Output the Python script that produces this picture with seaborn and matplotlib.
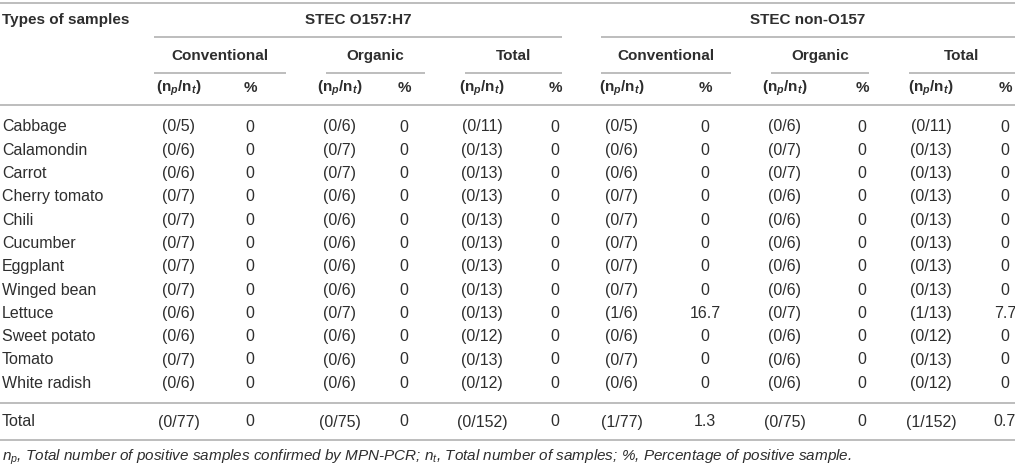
import matplotlib
matplotlib.use("Agg")
import matplotlib.pyplot as plt
import seaborn as sns

# ---------------- data ----------------
samples = ["Cabbage", "Calamondin", "Carrot", "Cherry tomato", "Chili", "Cucumber",
           "Eggplant", "Winged bean", "Lettuce", "Sweet potato", "Tomato", "White radish"]
conv_nt = [5, 6, 6, 7, 7, 7, 7, 7, 6, 6, 7, 6]
org_nt = [6, 7, 7, 6, 6, 6, 6, 6, 7, 6, 6, 6]
total_nt = [11, 13, 13, 13, 13, 13, 13, 13, 13, 12, 13, 12]

o157_conv_np = [0, 0, 0, 0, 0, 0, 0, 0, 0, 0, 0, 0]
o157_org_np = [0, 0, 0, 0, 0, 0, 0, 0, 0, 0, 0, 0]
o157_total_np = [0, 0, 0, 0, 0, 0, 0, 0, 0, 0, 0, 0]
o157_conv_pct = ["0"] * 12
o157_org_pct = ["0"] * 12
o157_total_pct = ["0"] * 12

non_conv_np = [0, 0, 0, 0, 0, 0, 0, 0, 1, 0, 0, 0]
non_org_np = [0, 0, 0, 0, 0, 0, 0, 0, 0, 0, 0, 0]
non_total_np = [0, 0, 0, 0, 0, 0, 0, 0, 1, 0, 0, 0]
non_conv_pct = ["0", "0", "0", "0", "0", "0", "0", "0", "16.7", "0", "0", "0"]
non_org_pct = ["0"] * 12
non_total_pct = ["0", "0", "0", "0", "0", "0", "0", "0", "7.7", "0", "0", "0"]

total_row_label = "Total"
total_row_nt = [77, 75, 152, 77, 75, 152]
total_row_np = [0, 0, 0, 1, 0, 1]
total_row_pct = ["0", "0", "0", "1.3", "0", "0.7"]

groups = ["STEC O157:H7", "STEC non-O157"]
subgroups = ["Conventional", "Organic", "Total"]
first_header = "Types of samples"
footnote = (r"$n_{p}$, Total number of positive samples confirmed by MPN-PCR; "
            r"$n_{t}$, Total number of samples; %, Percentage of positive sample.")

# ---------------- style ----------------
sns.set_theme(style="white")
plt.rcParams["font.family"] = ["Liberation Sans", "DejaVu Sans"]
plt.rcParams["mathtext.fontset"] = "custom"
plt.rcParams["mathtext.rm"] = "Liberation Sans"
plt.rcParams["mathtext.it"] = "Liberation Sans:italic"
plt.rcParams["mathtext.bf"] = "Liberation Sans:bold:italic"

TXT = "#2e2e2e"
LINE = "#b8b8b8"
FS = 11.5
FS_HEAD = 11
FS_FOOT = 11
LW = 1.3

fig = plt.figure(figsize=(10.15, 4.67), dpi=100)
ax = fig.add_axes([0, 0, 1, 1])
ax.set_xlim(0, 1015)
ax.set_ylim(467, 0)
ax.axis("off")

# layout (pixels)
np_x = [179, 340, 482, 622, 785, 931]
pct_x = [250, 404, 555, 705, 862, 1005]
sub_spans = [(154, 286), (326, 425), (465, 562), (601, 731), (771, 869), (909, 1015)]
grp_spans = [(154, 562), (601, 1015)]
y_grp, y_sub, y_col = 20, 56, 88
y_lines_hdr = [37, 73]
y_top, y_hdr_bottom = 3, 105
row_y0, row_dy = 127, 23.3
y_line_total, y_total, y_bottom, y_foot = 403, 422, 440, 457

def hline(y, x0=0, x1=1015):
    ax.plot([x0, x1], [y, y], color=LINE, lw=LW, solid_capstyle="butt")

hline(y_top)
hline(y_hdr_bottom)
hline(y_line_total)
hline(y_bottom)

ax.text(2, y_grp, first_header, fontsize=FS_HEAD, fontweight="bold", color=TXT,
        ha="left", va="center")

for g, (x0, x1) in zip(groups, grp_spans):
    ax.text((x0 + x1) / 2, y_grp, g, fontsize=FS_HEAD, fontweight="bold", color=TXT,
            ha="center", va="center")
    hline(y_lines_hdr[0], x0, x1)

for i, (x0, x1) in enumerate(sub_spans):
    ax.text((x0 + x1) / 2, y_sub, subgroups[i % 3], fontsize=FS_HEAD, fontweight="bold",
            color=TXT, ha="center", va="center")
    hline(y_lines_hdr[1], x0, x1)

for i in range(6):
    ax.text(np_x[i], y_col, r"(n$_{\mathbf{p}}$/n$_{\mathbf{t}}$)", fontsize=FS_HEAD,
            fontweight="bold", color=TXT, ha="center", va="center")
    ax.text(pct_x[i], y_col, "%", fontsize=FS_HEAD, fontweight="bold", color=TXT,
            ha="center", va="center")

np_cols = [o157_conv_np, o157_org_np, o157_total_np, non_conv_np, non_org_np, non_total_np]
nt_cols = [conv_nt, org_nt, total_nt, conv_nt, org_nt, total_nt]
pct_cols = [o157_conv_pct, o157_org_pct, o157_total_pct, non_conv_pct, non_org_pct, non_total_pct]

for r, name in enumerate(samples):
    y = row_y0 + r * row_dy
    ax.text(2, y, name, fontsize=FS, color=TXT, ha="left", va="center")
    for c in range(6):
        ax.text(np_x[c], y, f"({np_cols[c][r]}/{nt_cols[c][r]})", fontsize=FS,
                color=TXT, ha="center", va="center")
        ax.text(pct_x[c], y, pct_cols[c][r], fontsize=FS, color=TXT,
                ha="center", va="center")

ax.text(2, y_total, total_row_label, fontsize=FS, color=TXT, ha="left", va="center")
for c in range(6):
    ax.text(np_x[c], y_total, f"({total_row_np[c]}/{total_row_nt[c]})", fontsize=FS,
            color=TXT, ha="center", va="center")
    ax.text(pct_x[c], y_total, total_row_pct[c], fontsize=FS, color=TXT,
            ha="center", va="center")

ax.text(2, y_foot, footnote, fontsize=FS_FOOT, style="italic", color=TXT,
        ha="left", va="center")

fig.savefig("out.png", dpi=100)
